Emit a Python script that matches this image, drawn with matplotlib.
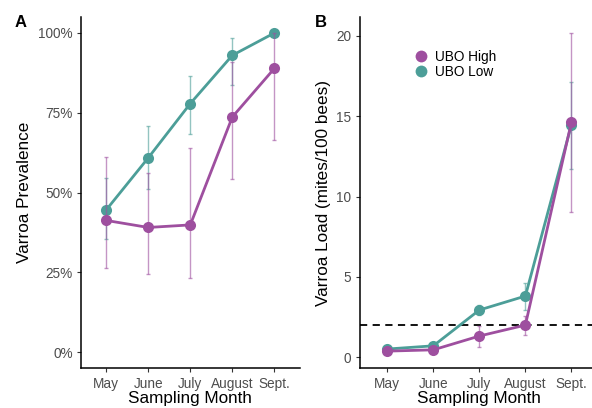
import matplotlib.pyplot as plt
import numpy as np

# --- datos ---
meses = ["May", "June", "July", "August", "Sept."]

# Panel A: prevalencia (fraccion)
prev_high = [0.413, 0.391, 0.399, 0.737, 0.889]
prev_high_lo = [0.265, 0.244, 0.232, 0.544, 0.664]
prev_high_hi = [0.612, 0.560, 0.640, 0.909, 1.000]
prev_low = [0.446, 0.609, 0.779, 0.930, 1.000]
prev_low_lo = [0.355, 0.512, 0.685, 0.837, 1.000]
prev_low_hi = [0.545, 0.709, 0.865, 0.984, 1.000]

# Panel B: carga (acaros/100 abejas)
load_high = [0.37, 0.45, 1.31, 1.99, 14.62]
load_high_lo = [0.30, 0.35, 0.60, 1.37, 9.04]
load_high_hi = [0.45, 0.55, 1.93, 2.57, 20.18]
load_low = [0.50, 0.70, 2.93, 3.80, 14.46]
load_low_lo = [0.40, 0.55, 2.60, 2.90, 11.70]
load_low_hi = [0.60, 0.85, 3.24, 4.62, 17.13]

umbral = 2

C_HIGH = "#9E4F9F"
C_LOW = "#4C9E98"
GRIS = "#4D4D4D"

plt.rcParams['font.family'] = ['Liberation Sans', 'DejaVu Sans']

fig = plt.figure(figsize=(5.92, 4.08), dpi=100)
W, H = 592, 408

def ejes(x0, x1, y0, y1):
    return fig.add_axes([x0 / W, 1 - y1 / H, (x1 - x0) / W, (y1 - y0) / H])

axA = ejes(81, 299.6, 17, 368.3)
axB = ejes(359.7, 599, 17, 368.3)

x = np.arange(len(meses))

def serie(ax, y, lo, hi, color, z):
    y = np.array(y); lo = np.array(lo); hi = np.array(hi)
    ax.errorbar(x, y, yerr=[y - lo, hi - y], fmt='none', ecolor=color,
                elinewidth=1.0, capsize=1.6, capthick=1.0, alpha=0.6, zorder=z + 2)
    ax.plot(x, y, color=color, lw=2.0, zorder=z)
    ax.plot(x, y, 'o', color=color, ms=8, zorder=z + 1, markeredgewidth=0)

# Low primero, High encima
serie(axA, prev_low, prev_low_lo, prev_low_hi, C_LOW, 3)
serie(axA, prev_high, prev_high_lo, prev_high_hi, C_HIGH, 6)
serie(axB, load_low, load_low_lo, load_low_hi, C_LOW, 3)
serie(axB, load_high, load_high_lo, load_high_hi, C_HIGH, 6)

axB.axhline(umbral, color="black", lw=1.3, ls=(0, (4, 3)), zorder=1)

for ax in (axA, axB):
    ax.set_xlim(-0.6, 4.6)
    ax.set_xticks(x)
    ax.set_xticklabels(meses)
    ax.spines['top'].set_visible(False)
    ax.spines['right'].set_visible(False)
    for s in ('left', 'bottom'):
        ax.spines[s].set_linewidth(1.1)
    ax.tick_params(axis='both', colors="#333333", labelcolor=GRIS,
                   labelsize=9.8, length=3, width=0.8, pad=3)
    ax.set_xlabel("Sampling Month", fontsize=12.3, labelpad=0)

axA.set_ylim(-0.05, 1.05)
axA.set_yticks([0, 0.25, 0.5, 0.75, 1.0])
axA.set_yticklabels(["0%", "25%", "50%", "75%", "100%"])
axA.set_ylabel("Varroa Prevalence", fontsize=12.3, labelpad=4)

axB.set_ylim(-0.7, 21.18)
axB.set_yticks([0, 5, 10, 15, 20])
axB.set_ylabel("Varroa Load (mites/100 bees)", fontsize=12.3, labelpad=4)

handles = [plt.Line2D([], [], marker='o', ls='none', color=C_HIGH, ms=8.5, markeredgewidth=0),
           plt.Line2D([], [], marker='o', ls='none', color=C_LOW, ms=8.5, markeredgewidth=0)]
fig.legend(handles, ["UBO High", "UBO Low"], loc='center left',
           bbox_to_anchor=(407 / W, 1 - 64.5 / H), frameon=False, fontsize=9.8,
           handlelength=1.1, handletextpad=0.45, labelspacing=0.1, borderpad=0)

fig.text(20.5 / W, 1 - 22.5 / H, "A", fontsize=12, fontweight='bold', ha='center', va='center')
fig.text(320.5 / W, 1 - 22.5 / H, "B", fontsize=12, fontweight='bold', ha='center', va='center')

fig.savefig("out.png", dpi=100)
